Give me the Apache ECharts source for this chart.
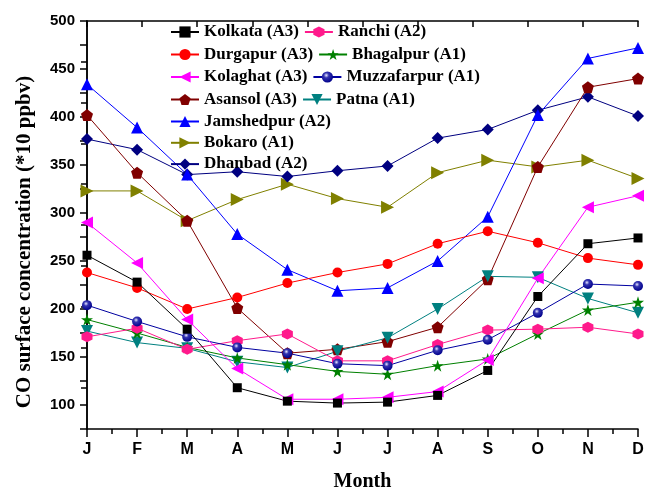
<!DOCTYPE html>
<html>
<head>
<meta charset="utf-8">
<script src="https://cdn.jsdelivr.net/npm/echarts@6/dist/echarts.min.js"></script>
<style>
  html, body { margin: 0; padding: 0; background: #fff; }
  #main { width: 649px; height: 497px; }
</style>
</head>
<body>
<div id="main"></div>
<script>
// months on the x axis
var months = ['J', 'F', 'M', 'A', 'M', 'J', 'J', 'A', 'S', 'O', 'N', 'D'];

// CO surface concentration (*10 ppbv)
var kolkata     = [256, 228, 179, 118, 104, 102, 103, 110, 136, 213, 268, 274];
var ranchi      = [171, 180, 158, 167, 174, 146, 146, 163, 178, 179, 181, 174];
var durgapur    = [238, 222, 200, 212, 227, 238, 247, 268, 281, 269, 253, 246];
var bhagalpur   = [189, 175, 160, 149, 142, 135, 132, 141, 148, 174, 199, 207];
var kolaghat    = [290, 248, 189, 138, 106, 106, 108, 114, 147, 232, 306, 318];
var muzzafarpur = [204, 187, 171, 160, 154, 143, 141, 157, 168, 196, 226, 224];
var asansol     = [402, 342, 292, 201, 154, 158, 166, 181, 231, 348, 431, 440];
var patna       = [177, 165, 159, 145, 139, 156, 170, 200, 234, 233, 211, 196];
var jamshedpur  = [434, 389, 340, 278, 241, 219, 222, 250, 296, 402, 461, 472];
var bokaro      = [323, 323, 292, 314, 330, 315, 306, 342, 355, 348, 355, 336];
var dhanbad     = [377, 366, 340, 343, 338, 344, 349, 378, 387, 407, 421, 401];

var serif = '"Liberation Serif", "Times New Roman", serif';
var sans = '"Liberation Sans", Arial, sans-serif';

var pentagon = 'path://M0,-1 L0.951,-0.309 L0.588,0.809 L-0.588,0.809 L-0.951,-0.309 Z';
var hexagon = 'path://M0,-1 L0.866,-0.5 L0.866,0.5 L0,1 L-0.866,0.5 L-0.866,-0.5 Z';
var star = 'path://M0,-1 L0.2245,-0.309 L0.951,-0.309 L0.363,0.118 L0.588,0.809 L0,0.382 L-0.588,0.809 L-0.363,0.118 L-0.951,-0.309 L-0.2245,-0.309 Z';

function pairs(arr) {
  return arr.map(function (v, i) { return [i, v]; });
}

function line(name, arr, color, symbol, size, rotate, fill) {
  return {
    name: name,
    type: 'line',
    data: pairs(arr),
    symbol: symbol,
    symbolSize: size,
    symbolRotate: rotate || 0,
    lineStyle: { color: color, width: 1 },
    itemStyle: { color: fill || color },
    emphasis: { disabled: true }
  };
}

var sphere = {
  type: 'radial', x: 0.4, y: 0.35, r: 0.65,
  colorStops: [
    { offset: 0, color: '#e8e8ff' },
    { offset: 0.35, color: '#3333b0' },
    { offset: 1, color: '#00008b' }
  ]
};

var legendText = { fontFamily: serif, fontWeight: 'bold', fontSize: 17, color: '#000' };

function legendRow(top, names, orient) {
  return {
    data: names,
    left: 170,
    top: top,
    orient: orient || 'horizontal',
    itemGap: 5,
    itemWidth: 28,
    itemHeight: 14,
    padding: 0,
    textStyle: legendText
  };
}

var myChart = echarts.init(document.getElementById('main'));
myChart.setOption({
  animation: false,
  backgroundColor: '#fff',
  grid: { left: 87, right: 11, top: 21, bottom: 62, containLabel: false },
  legend: [
    legendRow(23.5, ['Kolkata (A3)', 'Ranchi (A2)']),
    legendRow(46, ['Durgapur (A3)', 'Bhagalpur (A1)']),
    legendRow(68.5, ['Kolaghat (A3)', 'Muzzafarpur (A1)']),
    legendRow(91, ['Asansol (A3)', 'Patna (A1)']),
    {
      data: ['Jamshedpur (A2)', 'Bokaro (A1)', 'Dhanbad (A2)'],
      left: 170, top: 113, orient: 'vertical', itemGap: 4.3,
      itemWidth: 28, itemHeight: 14, padding: 0,
      textStyle: legendText
    }
  ],
  xAxis: [
    {
      type: 'value',
      min: 0, max: 11, interval: 1,
      name: 'Month',
      nameLocation: 'middle',
      nameGap: 43,
      nameTextStyle: { fontFamily: serif, fontWeight: 'bold', fontSize: 20, color: '#000' },
      axisLine: { lineStyle: { color: '#000', width: 1.5 } },
      axisTick: { inside: false, length: 8, lineStyle: { color: '#000', width: 1.5 } },
      minorTick: { show: true, splitNumber: 2, length: 5, lineStyle: { color: '#000', width: 1.5 } },
      axisLabel: {
        margin: 13,
        fontFamily: sans, fontWeight: 'bold', fontSize: 16, color: '#000',
        formatter: function (v) { return months[v]; }
      },
      splitLine: { show: false }
    },
    {
      type: 'value',
      position: 'top',
      min: 0, max: 10, interval: 1,
      axisLine: { lineStyle: { color: '#000', width: 1.5 } },
      axisTick: { inside: true, length: 6, lineStyle: { color: '#000', width: 1.5 } },
      axisLabel: { show: false },
      splitLine: { show: false }
    }
  ],
  yAxis: [
    {
      type: 'value',
      min: 75, max: 500, interval: 25,
      name: 'CO surface concentration (*10 ppbv)',
      nameLocation: 'middle',
      nameGap: 52,
      nameTextStyle: {
        fontFamily: serif, fontWeight: 'bold', fontSize: 21, color: '#000',
        padding: [0, 34, 0, 0]
      },
      axisLine: { show: true, lineStyle: { color: '#000', width: 1.5 } },
      axisTick: { show: true, inside: false, length: 7, lineStyle: { color: '#000', width: 1.5 } },
      axisLabel: {
        margin: 12,
        fontFamily: sans, fontWeight: 'bold', fontSize: 15, color: '#000',
        formatter: function (v) { return v % 50 === 0 ? v : ''; }
      },
      splitLine: { show: false }
    },
    {
      type: 'value',
      position: 'right',
      min: 0, max: 10, interval: 1,
      axisLine: { show: true, lineStyle: { color: '#000', width: 1.5 } },
      axisTick: { show: true, inside: true, length: 6, lineStyle: { color: '#000', width: 1.5 } },
      axisLabel: { show: false },
      splitLine: { show: false }
    }
  ],
  series: [
    line('Bokaro (A1)', bokaro, '#808000', 'triangle', 13, -90),
    line('Dhanbad (A2)', dhanbad, '#000080', 'diamond', 12),
    line('Jamshedpur (A2)', jamshedpur, '#0000ff', 'triangle', 12),
    line('Asansol (A3)', asansol, '#800000', pentagon, 12),
    line('Durgapur (A3)', durgapur, '#ff0000', 'circle', 10),
    line('Patna (A1)', patna, '#008080', 'triangle', 12, 180),
    line('Bhagalpur (A1)', bhagalpur, '#008000', star, 12),
    line('Ranchi (A2)', ranchi, '#ff1a8c', hexagon, 11),
    line('Muzzafarpur (A1)', muzzafarpur, '#0000a0', 'circle', 10, 0, sphere),
    line('Kolaghat (A3)', kolaghat, '#ff00ff', 'triangle', 12, 90),
    line('Kolkata (A3)', kolkata, '#000000', 'rect', 9)
  ]
});
</script>
</body>
</html>
